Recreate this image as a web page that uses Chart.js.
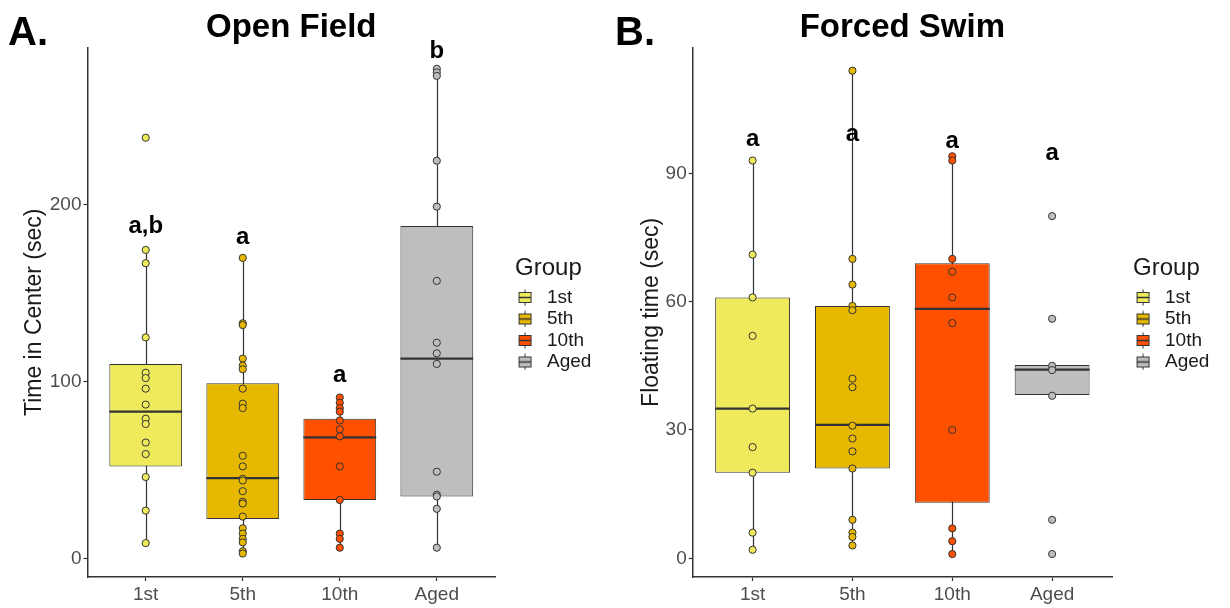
<!DOCTYPE html>
<html><head><meta charset="utf-8">
<script src="https://cdn.jsdelivr.net/npm/chart.js@4/dist/chart.umd.min.js"></script>
<style>
html,body{margin:0;padding:0;background:#fff;}
#wrap{position:relative;width:1230px;height:608px;overflow:hidden;}
.panel{position:absolute;top:0;width:615px;height:608px;}
</style></head><body>
<div id="wrap">
  <div class="panel" style="left:0"><canvas id="c1" width="615" height="608"></canvas></div>
  <div class="panel" style="left:615px"><canvas id="c2" width="615" height="608"></canvas></div>
</div>
<script>
// ---------- data ----------
const groups = ['1st', '5th', '10th', 'Aged'];
const groupColors = ['#EEEA5B', '#E6B800', '#FF5000', '#BEBEBE'];

// Open Field: time in center (sec)
const of1st  = [238, 174.5, 167, 125, 105, 102, 96, 87, 79, 76, 65.5, 59, 46, 27, 8.6];
const of5th  = [170, 133, 132, 113, 109, 107, 96, 87.5, 85, 58, 52, 45, 44, 38, 32, 31, 23.6, 17, 14, 11, 9, 4, 2.7];
const of10th = [91, 88, 85, 83, 78, 73, 69, 52, 33, 14, 11, 6];
const ofAged = [277, 275, 273, 225, 199, 157, 122, 116, 110, 49, 36, 35, 28, 6];
const ofQ1 = [52, 22.2, 33, 35];
const ofMedian = [83, 45.4, 68.4, 113];
const ofQ3 = [110, 99, 79, 188];
const ofWhiskerLow = [8.6, 2.7, 6, 6];
const ofWhiskerHigh = [174.5, 170, 91, 277];
const ofLetters = ['a,b', 'a', 'a', 'b'];
const ofLetterY = [188, 181.5, 103.5, 287];
const ofTicks = [0, 100, 200];

// Forced Swim: floating time (sec)
const fs1st  = [93, 71, 61, 52, 35, 26, 20, 6, 2];
const fs5th  = [114, 70, 64, 59, 58, 42, 40, 31, 28, 25, 21, 9, 6, 5, 3];
const fs10th = [94, 93, 70, 67, 61, 55, 30, 7, 4, 1];
const fsAged = [80, 56, 45, 44, 38, 9, 1];
const fsQ1 = [20, 21, 13, 38.2];
const fsMedian = [35, 31.2, 58.3, 44.1];
const fsQ3 = [61, 59, 69, 45.2];
const fsWhiskerLow = [2, 3, 1, 38.2];
const fsWhiskerHigh = [93, 114, 94, 45.2];
const fsLetters = ['a', 'a', 'a', 'a'];
const fsLetterY = [98, 99, 97.5, 94.6];
const fsTicks = [0, 30, 60, 90];

// ---------- rendering ----------
const FAMILY = '"Liberation Sans", Arial, Helvetica, sans-serif';
Chart.defaults.font.family = FAMILY;
Chart.defaults.animation = false;

function keyGlyph(color) {
  const c = document.createElement('canvas');
  c.width = 20; c.height = 17;
  const g = c.getContext('2d');
  g.strokeStyle = '#333'; g.lineWidth = 1;
  g.beginPath(); g.moveTo(7.5, 0.5); g.lineTo(7.5, 16.5); g.stroke();
  g.fillStyle = color;
  g.fillRect(1.5, 3.5, 12, 10);
  g.strokeRect(1.5, 3.5, 12, 10);
  g.lineWidth = 1.5;
  g.beginPath(); g.moveTo(1.5, 8.5); g.lineTo(13.5, 8.5); g.stroke();
  return c;
}
const glyphs = groupColors.map(keyGlyph);

const boxExtras = {
  id: 'boxExtras',
  beforeDatasetsDraw(chart, args, o) {
    const {ctx, scales: {x, y}} = chart;
    ctx.save();
    ctx.strokeStyle = '#333'; ctx.lineWidth = 1.2;
    o.whiskerLow.forEach((lo, i) => {
      const px = Math.round(x.getPixelForValue(i + 1)) + 0.5;
      ctx.beginPath();
      ctx.moveTo(px, y.getPixelForValue(o.whiskerHigh[i]));
      ctx.lineTo(px, y.getPixelForValue(lo));
      ctx.stroke();
    });
    ctx.restore();
  },
  afterDatasetDraw(chart, args, o) {
    if (args.index !== 0) return;
    const {ctx, scales: {y}} = chart;
    const meta = chart.getDatasetMeta(0);
    ctx.save();
    ctx.strokeStyle = '#333'; ctx.lineWidth = 2.2;
    meta.data.forEach((bar, i) => {
      const p = bar.getProps(['x', 'width'], true);
      const py = y.getPixelForValue(o.medians[i]);
      ctx.beginPath();
      ctx.moveTo(p.x - p.width / 2, py);
      ctx.lineTo(p.x + p.width / 2, py);
      ctx.stroke();
    });
    ctx.restore();
  },
  afterDatasetsDraw(chart, args, o) {
    const {ctx, scales: {x, y}} = chart;
    ctx.save();
    ctx.font = 'bold 24px ' + FAMILY;
    ctx.fillStyle = '#000';
    ctx.textAlign = 'center';
    ctx.textBaseline = 'middle';
    o.letters.forEach((t, i) => {
      ctx.fillText(t, x.getPixelForValue(i + 1), y.getPixelForValue(o.letterY[i]));
    });
    ctx.restore();
  }
};

const panelLetter = {
  id: 'panelLetter',
  afterDraw(chart, args, o) {
    const ctx = chart.ctx;
    ctx.save();
    ctx.font = 'bold 40px ' + FAMILY;
    ctx.fillStyle = '#000';
    ctx.textAlign = 'left';
    ctx.textBaseline = 'alphabetic';
    ctx.fillText(o.text, o.x, o.y);
    ctx.restore();
  }
};

function makePanel(canvasId, cfg) {
  const seriesList = [cfg.s1, cfg.s2, cfg.s3, cfg.s4];
  const datasets = [{
    type: 'bar',
    label: 'box',
    data: groups.map((g, i) => ({x: i + 1, y: [cfg.q1[i], cfg.q3[i]]})),
    backgroundColor: groupColors,
    borderColor: '#333',
    borderWidth: 1,
    borderSkipped: false,
    barPercentage: 0.75,
    categoryPercentage: 1,
    order: 1
  }];
  seriesList.forEach((vals, i) => {
    datasets.push({
      type: 'scatter',
      label: groups[i],
      data: vals.map(v => ({x: i + 1, y: v})),
      pointRadius: 3.6,
      pointBackgroundColor: groupColors[i],
      pointBorderColor: '#333',
      pointBorderWidth: 1,
      order: 0
    });
  });

  return new Chart(document.getElementById(canvasId), {
    type: 'bar',
    data: {datasets},
    plugins: [boxExtras, panelLetter],
    options: {
      responsive: false,
      events: [],
      layout: {padding: {left: cfg.padLeft, right: cfg.padRight, top: 0, bottom: 0}},
      scales: {
        x: {
          type: 'linear', min: 0.4, max: 4.6, offset: false,
          afterBuildTicks: s => { s.ticks = groups.map((g, i) => ({value: i + 1})); },
          afterFit: s => { s.height = 31; },
          ticks: {
            callback: v => groups[Math.round(v) - 1],
            font: {size: 19}, color: '#4D4D4D', padding: 2, maxRotation: 0, autoSkip: false
          },
          grid: {display: true, offset: false, drawOnChartArea: false, drawTicks: true, tickLength: 4, tickColor: '#333', tickWidth: 1.2},
          border: {display: true, color: '#333', width: 1.5}
        },
        y: {
          type: 'linear', min: cfg.yMin, max: cfg.yMax,
          afterBuildTicks: s => { s.ticks = cfg.ticks.map(v => ({value: v})); },
          afterFit: s => { s.width = cfg.yWidth; },
          ticks: {font: {size: 19}, color: '#4D4D4D', padding: 2},
          grid: {display: true, drawOnChartArea: false, drawTicks: true, tickLength: 4, tickColor: '#333', tickWidth: 1.2},
          border: {display: true, color: '#333', width: 1.5},
          title: {display: true, text: cfg.yTitle, font: {size: 23}, color: '#1a1a1a', padding: {top: 1, bottom: 1}}
        },
        gap: {
          type: 'linear', axis: 'y', position: 'right', display: true,
          grid: {display: false}, border: {display: false}, ticks: {display: false},
          afterFit: s => { s.width = cfg.gap; }
        }
      },
      plugins: {
        title: {
          display: true, text: cfg.title, fullSize: false,
          font: {size: 33, weight: 'bold'}, color: '#000',
          padding: {top: 8, bottom: 0}
        },
        legend: {
          display: true, position: 'right', align: 'center', fullSize: false,
          onClick: null,
          title: {display: true, text: 'Group', position: 'start', color: '#1a1a1a',
                  font: {size: 24}, padding: {top: 6, bottom: 0}},
          labels: {
            usePointStyle: true, pointStyleWidth: 20, padding: 2.5,
            font: {size: 19}, color: '#1a1a1a',
            generateLabels: () => groups.map((g, i) => ({
              text: g, pointStyle: glyphs[i], fillStyle: groupColors[i],
              strokeStyle: '#333', lineWidth: 0, hidden: false, datasetIndex: i + 1
            }))
          }
        },
        tooltip: {enabled: false},
        boxExtras: {
          whiskerLow: cfg.wLow, whiskerHigh: cfg.wHigh, medians: cfg.median,
          letters: cfg.letters, letterY: cfg.letterY
        },
        panelLetter: {text: cfg.panel, x: cfg.panelX, y: 45}
      }
    }
  });
}

makePanel('c1', {
  s1: of1st, s2: of5th, s3: of10th, s4: ofAged,
  q1: ofQ1, q3: ofQ3, median: ofMedian, wLow: ofWhiskerLow, wHigh: ofWhiskerHigh,
  letters: ofLetters, letterY: ofLetterY, ticks: ofTicks,
  yMin: -10.58, yMax: 289.0, yTitle: 'Time in Center (sec)', title: 'Open Field',
  panel: 'A.', panelX: 8,
  padLeft: 20, yWidth: 67.5, padRight: 13.6, gap: 20
});
makePanel('c2', {
  s1: fs1st, s2: fs5th, s3: fs10th, s4: fsAged,
  q1: fsQ1, q3: fsQ3, median: fsMedian, wLow: fsWhiskerLow, wHigh: fsWhiskerHigh,
  letters: fsLetters, letterY: fsLetterY, ticks: fsTicks,
  yMin: -4.37, yMax: 119.4, yTitle: 'Floating time (sec)', title: 'Forced Swim',
  panel: 'B.', panelX: 0,
  padLeft: 22, yWidth: 55.7, padRight: 10.6, gap: 21
});
</script>
</body></html>
